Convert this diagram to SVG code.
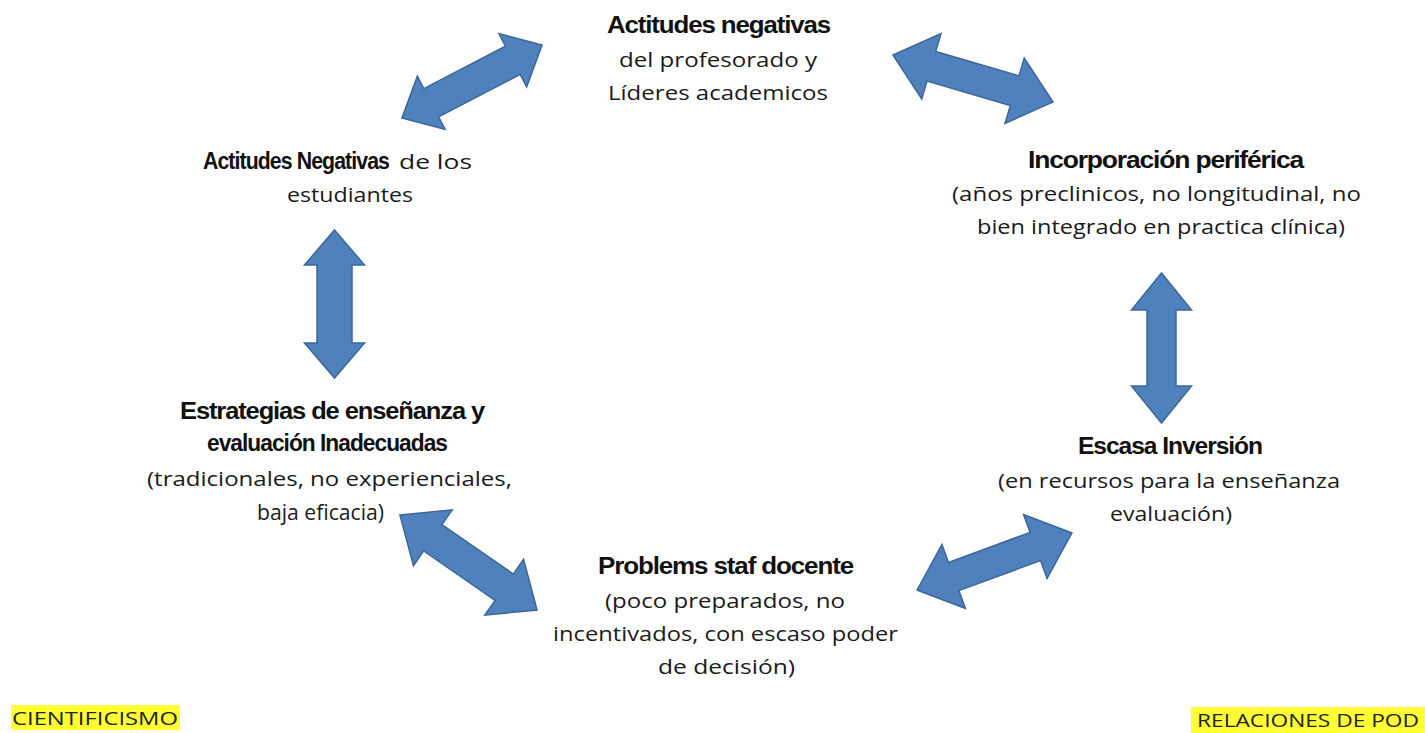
<svg xmlns="http://www.w3.org/2000/svg" width="1425" height="733" viewBox="0 0 1425 733">
<defs>
<style>
.arr{fill:#4f81bd;stroke:#3b679b;stroke-width:1.5;stroke-linejoin:miter}
.b{font-family:"Liberation Sans",Arial,sans-serif;font-weight:bold;font-size:23px;fill:#111;letter-spacing:-1px}
.r{font-family:"Open Sans","Noto Sans",sans-serif;font-size:20.5px;fill:#1a1a1a}
.tag{font-family:"Open Sans","Noto Sans",sans-serif;font-size:19px;fill:#222}
.hl{fill:#ffff33}
</style>
</defs>
<rect width="1425" height="733" fill="#ffffff"/>

<g id="connectors">
  <polygon class="arr" transform="translate(472,81.5) rotate(-27.5)" points="-79,0 -46,-30 -46,-16 46,-16 46,-30 79,0 46,30 46,16 -46,16 -46,30"/>
  <polygon class="arr" transform="translate(973,78.5) rotate(16.4)" points="-83.4,0 -43.4,-34 -43.4,-15.5 43.4,-15.5 43.4,-34 83.4,0 43.4,34 43.4,15.5 -43.4,15.5 -43.4,34"/>
  <polygon class="arr" transform="translate(334.5,304) rotate(90)" points="-74,0 -39,-30 -39,-17.5 39,-17.5 39,-30 74,0 39,30 39,17.5 -39,17.5 -39,30"/>
  <polygon class="arr" transform="translate(1161.5,348) rotate(90)" points="-75,0 -38,-30 -38,-14.5 38,-14.5 38,-30 75,0 38,30 38,14.5 -38,14.5 -38,30"/>
  <polygon class="arr" transform="translate(468.5,562.5) rotate(34.7)" points="-83.4,0 -43.4,-34 -43.4,-16 43.4,-16 43.4,-34 83.4,0 43.4,34 43.4,16 -43.4,16 -43.4,34"/>
  <polygon class="arr" transform="translate(994.5,561.5) rotate(-20.2)" points="-82.5,0 -43.5,-34 -43.5,-15 43.5,-15 43.5,-34 82.5,0 43.5,34 43.5,15 -43.5,15 -43.5,34"/>
</g>

<g id="node-top">
  <text class="b" x="607" y="33" textLength="223" lengthAdjust="spacingAndGlyphs">Actitudes negativas</text>
  <text class="r" x="619" y="67" textLength="198" lengthAdjust="spacingAndGlyphs">del profesorado y</text>
  <text class="r" x="608" y="100" textLength="220" lengthAdjust="spacingAndGlyphs">Líderes academicos</text>
</g>

<g id="node-right">
  <text class="b" x="1028" y="168" textLength="275" lengthAdjust="spacingAndGlyphs">Incorporación periférica</text>
  <text class="r" x="952" y="201" textLength="409" lengthAdjust="spacingAndGlyphs">(años preclinicos, no longitudinal, no</text>
  <text class="r" x="977" y="234" textLength="368" lengthAdjust="spacingAndGlyphs">bien integrado en practica clínica)</text>
</g>

<g id="node-left-top">
  <text class="b" x="203" y="169" textLength="186" lengthAdjust="spacingAndGlyphs">Actitudes Negativas</text>
  <text class="r" x="399" y="169" textLength="73" lengthAdjust="spacingAndGlyphs">de los</text>
  <text class="r" x="287" y="202" textLength="126" lengthAdjust="spacingAndGlyphs">estudiantes</text>
</g>

<g id="node-left-bottom">
  <text class="b" x="180" y="419" textLength="304" lengthAdjust="spacingAndGlyphs">Estrategias de enseñanza y</text>
  <text class="b" x="207" y="451" textLength="240" lengthAdjust="spacingAndGlyphs">evaluación Inadecuadas</text>
  <text class="r" x="147" y="486" textLength="365" lengthAdjust="spacingAndGlyphs">(tradicionales, no experienciales,</text>
  <text class="r" x="257" y="520" textLength="127" lengthAdjust="spacingAndGlyphs" style="font-size:22px">baja eficacia)</text>
</g>

<g id="node-right-bottom">
  <text class="b" x="1078" y="454" textLength="184" lengthAdjust="spacingAndGlyphs">Escasa Inversión</text>
  <text class="r" x="998" y="488" textLength="342" lengthAdjust="spacingAndGlyphs">(en recursos para la enseñanza</text>
  <text class="r" x="1110" y="521" textLength="122" lengthAdjust="spacingAndGlyphs">evaluación)</text>
</g>

<g id="node-bottom">
  <text class="b" x="598" y="574" textLength="255" lengthAdjust="spacingAndGlyphs">Problems staf docente</text>
  <text class="r" x="605" y="608" textLength="240" lengthAdjust="spacingAndGlyphs">(poco preparados, no</text>
  <text class="r" x="553" y="641" textLength="345" lengthAdjust="spacingAndGlyphs">incentivados, con escaso poder</text>
  <text class="r" x="658" y="674" textLength="137" lengthAdjust="spacingAndGlyphs">de decisión)</text>
</g>

<g id="label-cientificismo">
  <rect class="hl" x="11" y="705" width="169" height="25"/>
  <text class="tag" x="12" y="725" textLength="166" lengthAdjust="spacingAndGlyphs">CIENTIFICISMO</text>
</g>

<g id="label-relaciones">
  <rect class="hl" x="1191" y="707" width="234" height="26"/>
  <text class="tag" x="1197" y="727" textLength="222" lengthAdjust="spacingAndGlyphs">RELACIONES DE POD</text>
</g>
</svg>
